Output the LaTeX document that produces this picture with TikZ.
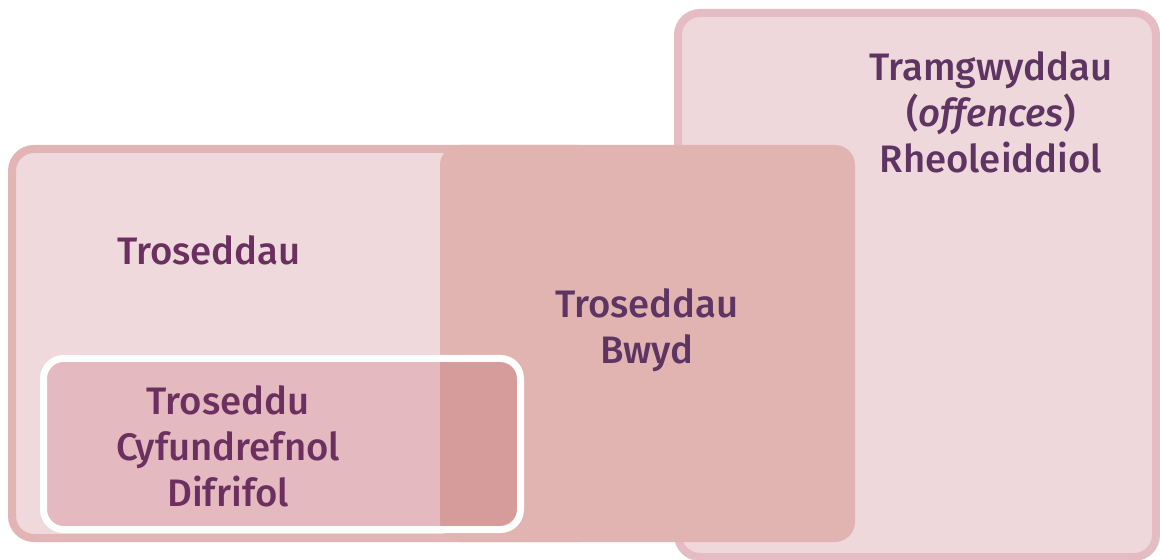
\documentclass[tikz,border=0pt]{standalone}
\usepackage{fontspec}
\setmainfont{Fira Sans}[BoldFont={Fira Sans Medium}]
\definecolor{rheolfill}{HTML}{EFD8DC}
\definecolor{rheoldraw}{HTML}{E6BCC4}
\definecolor{trosfill}{HTML}{EFD9DC}
\definecolor{trosdraw}{HTML}{E2B4B3}
\definecolor{bwydfill}{HTML}{E1B4B2}
\definecolor{socfill}{HTML}{E4BAC0}
\definecolor{socbwyd}{HTML}{D69C9C}
\definecolor{labelpurple}{HTML}{6B3060}
\definecolor{labeldark}{HTML}{5E3562}
\tikzstyle{rheolbox}=[fill=rheolfill,draw=rheoldraw,line width=8*0.02cm,rounded corners=22*0.02cm]
\tikzstyle{trosbox}=[fill=trosfill,draw=trosdraw,line width=8*0.02cm,rounded corners=22*0.02cm]
\tikzstyle{bwydbox}=[fill=bwydfill,rounded corners=20*0.02cm]
\tikzstyle{socbox}=[draw=white,line width=7*0.02cm,rounded corners=20*0.02cm]
\tikzstyle{boxlabel} = [font=\bfseries\fontsize{21.8}{26.2}\selectfont,align=center,inner sep=0pt,text=labelpurple]

\begin{document}
\begin{tikzpicture}[x=0.02cm,y=-0.02cm]

\useasboundingbox (0,0) rectangle (1160,560);

% Boxes
\path[rheolbox] (678,13) rectangle (1156,557);
\path[trosbox] (12,149) rectangle (600,538);
\path[bwydbox] (440,145) rectangle (855,542);

%Serious crime box
\path[fill=socfill,rounded corners=20*0.02cm] (43.5,358.5) rectangle (520.5,529.5);
\begin{scope}
  \clip[rounded corners=20*0.02cm] (440,145) rectangle (855,542);
  \path[fill=socbwyd,rounded corners=20*0.02cm] (43.5,358.5) rectangle (520.5,529.5);
\end{scope}
\path[socbox] (43.5,358.5) rectangle (520.5,529.5);

% Labels
\node[boxlabel] (troseddau) at (209,250) {Troseddau};
\node[boxlabel,text=labeldark] (bwyd) at (647,330) {Troseddau\\Bwyd};
\node[boxlabel] (soc) at (228,446) {Troseddu\\Cyfundrefnol\\Difrifol};
\node[boxlabel,text=labeldark] (rheol) at (991,112) {Tramgwyddau\\(\textit{offences})\\Rheoleiddiol};

\end{tikzpicture}
\end{document}
